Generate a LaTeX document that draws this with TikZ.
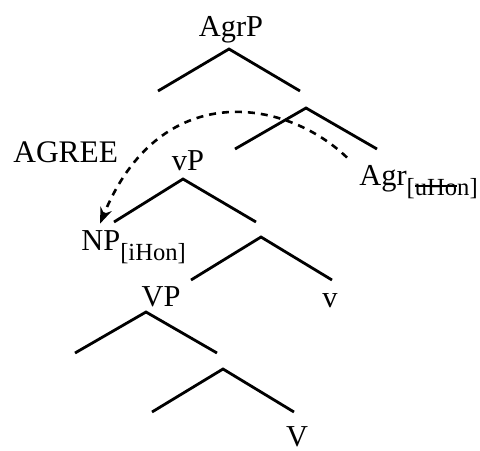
\documentclass[tikz,border=0pt]{standalone}
\usepackage{fontspec}
\setmainfont{Liberation Serif}
\usetikzlibrary{positioning,arrows.meta}

\newcommand{\feat}[1]{\raisebox{-5pt}{\fontsize{12.3}{14}\selectfont[#1]}}
\newcommand{\crossout}[1]{\setbox0\hbox{#1}\rlap{\rule[0.33em]{\wd0}{0.8pt}}\box0}

\begin{document}
\begin{tikzpicture}[x=0.5pt,y=-0.5pt,line width=1.4pt,
    cat node/.style={inner sep=0pt,anchor=base,font=\fontsize{15.2}{18}\selectfont},
    agree line/.style={->,>={Stealth[length=8pt,width=6pt]},dash pattern=on 3.5pt off 3pt,line width=1.3pt}]
\useasboundingbox (0,0) rectangle (480,450);

\node[cat node]                  (agrp)  at (231,36)  {AgrP};
\node[cat node,anchor=base west,font=\fontsize{15.7}{18}\selectfont] (agree) at (12,162) {AGREE};
\node[cat node]                  (vp)    at (188,170) {vP};
\node[cat node,anchor=base west] (agr)   at (358,185) {Agr\feat{\crossout{uHo}n}};
\node[cat node,anchor=base west] (np)    at (80,250)  {NP\feat{iHon}};
\node[cat node]                  (bigvp) at (161,306) {VP};
\node[cat node]                  (lv)    at (330,307) {v};
\node[cat node]                  (bigv)  at (297,446) {V};

\coordinate (agrp-top) at (229,49);
\coordinate (agrp-l)   at (158,91);
\coordinate (agrp-r)   at (300,91);
\coordinate (agrb-top) at (306,108);
\coordinate (agrb-l)   at (235,149);
\coordinate (agrb-r)   at (377,149);
\coordinate (vp-top)   at (183,179);
\coordinate (vp-l)     at (114,222);
\coordinate (vp-r)     at (256,222);
\coordinate (vb-top)   at (261,237);
\coordinate (vb-l)     at (191,280);
\coordinate (vb-r)     at (332,280);
\coordinate (bigvp-top) at (146,312);
\coordinate (bigvp-l)  at (75,353);
\coordinate (bigvp-r)  at (217,353);
\coordinate (bigvb-top) at (223,369);
\coordinate (bigvb-l)  at (152,412);
\coordinate (bigvb-r)  at (294,412);

\draw (agrp-l) -- (agrp-top) -- (agrp-r);
\draw (agrb-l) -- (agrb-top) -- (agrb-r);
\draw (vp-l) -- (vp-top) -- (vp-r);
\draw (vb-l) -- (vb-top) -- (vb-r);
\draw (bigvp-l) -- (bigvp-top) -- (bigvp-r);
\draw (bigvb-l) -- (bigvb-top) -- (bigvb-r);

\draw[agree line] ([xshift=-5.5pt,yshift=3pt]agr.north west) .. controls (285,98) and (160,78) .. ([xshift=10pt,yshift=2.5pt]np.north west);
\end{tikzpicture}
\end{document}
